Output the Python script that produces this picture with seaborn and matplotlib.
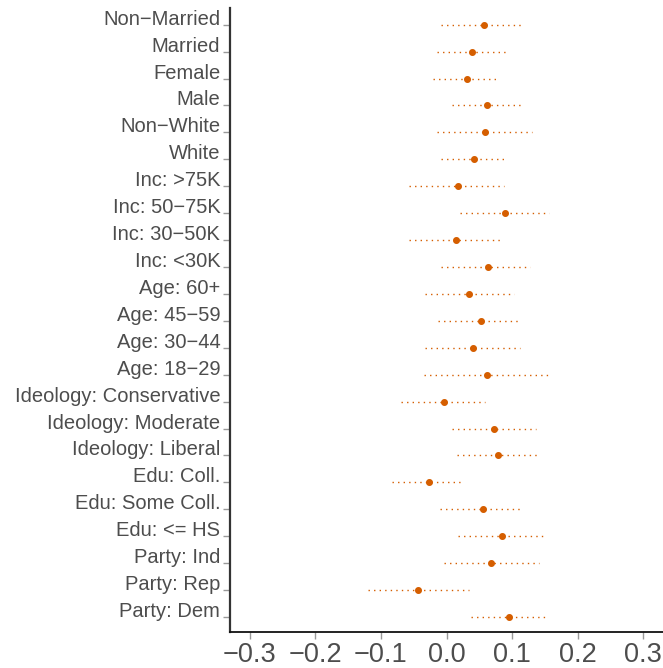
import numpy as np
import pandas as pd
import seaborn as sns
import matplotlib.pyplot as plt

# estimates and 95% intervals, top row first
terms = ["Non\u2212Married", "Married", "Female", "Male", "Non\u2212White", "White",
         "Inc: >75K", "Inc: 50\u221275K", "Inc: 30\u221250K", "Inc: <30K",
         "Age: 60+", "Age: 45\u221259", "Age: 30\u221244", "Age: 18\u221229",
         "Ideology: Conservative", "Ideology: Moderate", "Ideology: Liberal",
         "Edu: Coll.", "Edu: Some Coll.", "Edu: <= HS",
         "Party: Ind", "Party: Rep", "Party: Dem"]
est = [0.057, 0.039, 0.031, 0.062, 0.058, 0.042,
       0.017, 0.089, 0.015, 0.063,
       0.035, 0.052, 0.040, 0.061,
       -0.004, 0.072, 0.079,
       -0.027, 0.056, 0.085,
       0.068, -0.043, 0.095]
lo = [-0.009, -0.015, -0.020, 0.008, -0.015, -0.008,
      -0.057, 0.020, -0.057, -0.008,
      -0.033, -0.013, -0.033, -0.035,
      -0.069, 0.009, 0.016,
      -0.083, -0.010, 0.018,
      -0.004, -0.120, 0.037]
hi = [0.118, 0.092, 0.079, 0.117, 0.130, 0.091,
      0.088, 0.156, 0.086, 0.128,
      0.103, 0.114, 0.112, 0.156,
      0.058, 0.136, 0.143,
      0.026, 0.117, 0.152,
      0.141, 0.035, 0.154]
xticks = [-0.3, -0.2, -0.1, 0.0, 0.1, 0.2, 0.3]

df = pd.DataFrame({"term": terms, "est": est, "lo": lo, "hi": hi})

sns.set_style("white")
plt.rcParams["font.family"] = ["Liberation Sans", "DejaVu Sans"]
plt.rcParams["axes.unicode_minus"] = True

col = "#D55E00"
fig = plt.figure(figsize=(6.63, 6.68), dpi=100)
ax = fig.add_axes([0.347, 0.0534, 0.653, 0.9346])

ypos = np.arange(len(df))
ax.hlines(ypos, df["lo"], df["hi"], color=col, linewidth=1.0,
          linestyles=(0, (1, 3)), zorder=1)
sns.pointplot(data=df, x="est", y="term", order=terms, linestyle="none",
              color=col, markersize=3.0, errorbar=None, ax=ax, zorder=3)

ax.set_xlim(-0.33, 0.33)
ax.set_ylim(len(df) - 1 + 0.57, -0.62)
ax.set_xticks(xticks)
ax.set_xticklabels([f"{t:.1f}".replace("-", "\u2212") for t in xticks])
ax.set_xlabel("")
ax.set_ylabel("")

for s in ["top", "right"]:
    ax.spines[s].set_visible(False)
ax.spines["left"].set_color("#333333")
ax.spines["left"].set_linewidth(1.6)
ax.spines["bottom"].set_color("#111111")
ax.spines["bottom"].set_linewidth(1.3)

ax.tick_params(axis="y", length=5, width=1, color="#999999", pad=2,
               labelsize=14.5, labelcolor="#4d4d4d", left=True)
ax.tick_params(axis="x", length=5, width=1, color="#999999", pad=2,
               labelsize=19.5, labelcolor="#4d4d4d", bottom=True)
# labels sit on the tick like the original
for lab in ax.get_yticklabels():
    lab.set_verticalalignment("baseline")

fig.savefig("out.png", dpi=100)
